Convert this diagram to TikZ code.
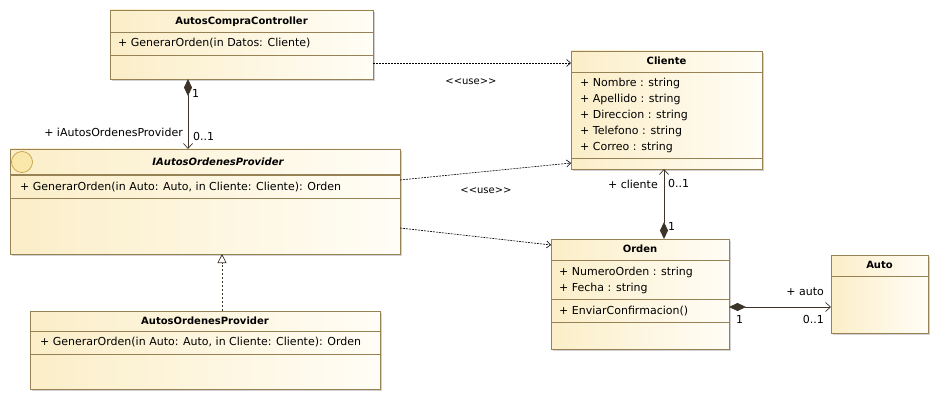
\documentclass[tikz,border=0pt]{standalone}
\usepackage{fontspec}
\setmainfont{DejaVu Sans}
\usetikzlibrary{arrows.meta,shadows}
\definecolor{bordc}{RGB}{150,130,85}
\definecolor{fillL}{RGB}{251,238,200}
\definecolor{fillR}{RGB}{255,253,246}
\definecolor{linec}{RGB}{60,52,40}
\definecolor{iconc}{RGB}{250,232,170}
\definecolor{iconb}{RGB}{200,160,70}
\tikzset{
  cls/.style={draw=bordc, line width=0.8pt, left color=fillL, right color=fillR,
    rectangle, inner sep=0pt, outer sep=0pt, anchor=north west,
    drop shadow={shadow xshift=2pt,shadow yshift=-2pt,fill=black!35,opacity=0.5}},
  sep/.style={draw=bordc, line width=0.8pt},
  ttl/.style={inner sep=0pt, font=\fontsize{10}{12}\selectfont\bfseries, text height=8.5pt, text depth=2pt},
  txt/.style={inner sep=0pt, anchor=west, font=\fontsize{11}{13}\selectfont, text height=8.5pt, text depth=2pt},
  lbl/.style={inner sep=0pt, font=\fontsize{11}{13}\selectfont, text height=8.5pt, text depth=2pt},
  comp/.style={draw=linec, line width=0.9pt, {Diamond[length=17pt,width=8pt,fill=linec]}-{Straight Barb[length=5pt,width=9pt,line width=0.7pt]}},
  dep/.style={draw=black, line width=0.6pt, dash pattern=on 2pt off 1pt, -{Straight Barb[length=4pt,width=7pt,line width=0.6pt]}},
  real/.style={draw=linec, line width=0.7pt, dash pattern=on 2.5pt off 1.5pt, -{Triangle[open,length=9pt,width=9pt,fill=white]}}
}
\begin{document}
\begin{tikzpicture}[x=1pt,y=-1pt]
\useasboundingbox (0,0) rectangle (940,401);

% AutosCompraController
\node[cls, minimum width=263pt, minimum height=69pt] (ctrl) at (110,10) {};
\draw[sep] (110,32) -- (373,32);
\draw[sep] (110,55) -- (373,55);
\node[ttl] (ctrlT) at (241.5,21) {AutosCompraController};
\node[txt] (ctrlM) at (118,43.5) {+ GenerarOrden(in Datos: Cliente)};

% IAutosOrdenesProvider
\node[cls, minimum width=390pt, minimum height=105pt] (iprov) at (10,149) {};
\draw[sep, line width=1.3pt] (10,175) -- (400,175);
\draw[sep] (10,198) -- (400,198);
\node[circle, draw=iconb, fill=iconc, line width=0.7pt, minimum size=21pt, inner sep=0pt] (icon) at (22,162) {};
\node[ttl, font=\fontsize{10}{12}\selectfont\bfseries\itshape] (iprovT) at (218,162) {IAutosOrdenesProvider};
\node[txt] (iprovM) at (20,187) {+ GenerarOrden(in Auto: Auto, in Cliente: Cliente): Orden};

% Cliente
\node[cls, minimum width=191pt, minimum height=118pt] (cli) at (571,51) {};
\draw[sep] (571,72) -- (762,72);
\draw[sep] (571,158) -- (762,158);
\node[ttl] (cliT) at (666.5,61.5) {Cliente};
\node[txt] (cliA1) at (580,83.5) {+ Nombre : string};
\node[txt] (cliA2) at (580,99.5) {+ Apellido : string};
\node[txt] (cliA3) at (580,115.5) {+ Direccion : string};
\node[txt] (cliA4) at (580,131.5) {+ Telefono : string};
\node[txt] (cliA5) at (580,147.5) {+ Correo : string};

% Orden
\node[cls, minimum width=178pt, minimum height=110pt] (ord) at (551,239) {};
\draw[sep] (551,260) -- (729,260);
\draw[sep] (551,299) -- (729,299);
\draw[sep] (551,322) -- (729,322);
\node[ttl] (ordT) at (640,249.5) {Orden};
\node[txt] (ordA1) at (559,272) {+ NumeroOrden : string};
\node[txt] (ordA2) at (559,288) {+ Fecha : string};
\node[txt] (ordM) at (559,311.5) {+ EnviarConfirmacion()};

% Auto
\node[cls, minimum width=97pt, minimum height=78pt] (auto) at (831,255) {};
\draw[sep] (831,276) -- (928,276);
\node[ttl] (autoT) at (879.5,265.5) {Auto};

% AutosOrdenesProvider
\node[cls, minimum width=350pt, minimum height=78pt] (prov) at (30,311) {};
\draw[sep] (30,331) -- (380,331);
\draw[sep] (30,354) -- (380,354);
\node[ttl] (provT) at (205,321) {AutosOrdenesProvider};
\node[txt] (provM) at (40,342.5) {+ GenerarOrden(in Auto: Auto, in Cliente: Cliente): Orden};

% connector end points
\coordinate (c1a) at (188,79);   \coordinate (c1b) at (188,149);
\coordinate (c2a) at (664,239);  \coordinate (c2b) at (664,169);
\coordinate (c3a) at (729,307);  \coordinate (c3b) at (831,307);
\coordinate (r1a) at (222,311);  \coordinate (r1b) at (222,254);
\coordinate (d1a) at (373,63);   \coordinate (d1b) at (571,63);
\coordinate (d2a) at (400,180);  \coordinate (d2b) at (571,163);
\coordinate (d3a) at (400,228);  \coordinate (d3b) at (551,245);

\draw[comp] (c1a) -- (c1b);
\draw[comp] (c2a) -- (c2b);
\draw[comp] (c3a) -- (c3b);
\draw[real] (r1a) -- (r1b);
\draw[dep] (d1a) -- (d1b);
\draw[dep] (d2a) -- (d2b);
\draw[dep] (d3a) -- (d3b);

% labels
\node[lbl, anchor=west] (l1) at (192,94) {1};
\node[lbl, anchor=west] (l2) at (193,137) {0..1};
\node[lbl, anchor=east] (l3) at (183,133) {+ iAutosOrdenesProvider};
\node[lbl, font=\fontsize{10}{12}\selectfont] (u1) at (471,81) {<{}<use>{}>};
\node[lbl, font=\fontsize{10}{12}\selectfont] (u2) at (486,190) {<{}<use>{}>};
\node[lbl, anchor=east] (l4) at (658,185) {+ cliente};
\node[lbl, anchor=west] (l5) at (668,184) {0..1};
\node[lbl, anchor=west] (l6) at (668,227) {1};
\node[lbl, anchor=east] (l7) at (824,292) {+ auto};
\node[lbl, anchor=west] (l8) at (736,320) {1};
\node[lbl, anchor=east] (l9) at (824,320) {0..1};
\end{tikzpicture}
\end{document}
